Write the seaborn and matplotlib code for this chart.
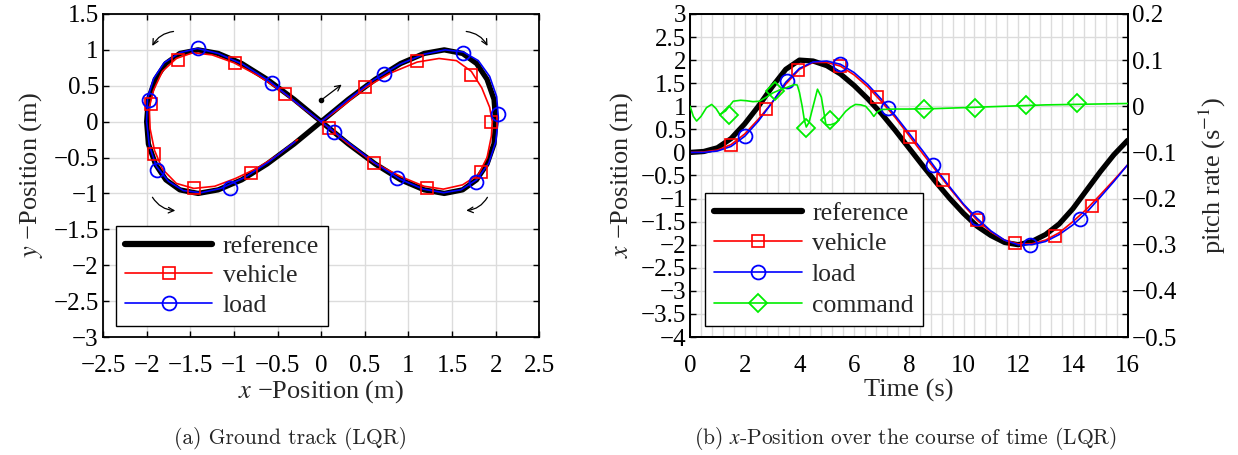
import numpy as np
import pandas as pd
import matplotlib
matplotlib.use("Agg")
import matplotlib.pyplot as plt
from matplotlib.lines import Line2D
from matplotlib.ticker import MultipleLocator
import seaborn as sns

# ---------------- data: ground track ----------------
ref_x = [0, 0.31, 0.62, 0.91, 1.18, 1.41, 1.62, 1.78, 1.90, 1.98, 2.0, 1.98, 1.90, 1.78, 1.62, 1.41, 1.18, 0.91, 0.62, 0.31, 0,
         -0.31, -0.62, -0.91, -1.18, -1.41, -1.62, -1.78, -1.90, -1.98, -2.0, -1.98, -1.90, -1.78, -1.62, -1.41, -1.18, -0.91, -0.62, -0.31, 0]
ref_y = [0, 0.31, 0.59, 0.81, 0.95, 1.0, 0.95, 0.81, 0.59, 0.31, 0, -0.31, -0.59, -0.81, -0.95, -1.0, -0.95, -0.81, -0.59, -0.31, 0,
         0.31, 0.59, 0.81, 0.95, 1.0, 0.95, 0.81, 0.59, 0.31, 0, -0.31, -0.59, -0.81, -0.95, -1.0, -0.95, -0.81, -0.59, -0.31, 0]

veh_x = [0, 0.25, 0.5, 0.8, 1.1, 1.35, 1.55, 1.72, 1.84, 1.93, 1.96, 1.95, 1.9, 1.8, 1.62, 1.4, 1.18, 0.92, 0.6, 0.3, 0.05,
         -0.2, -0.45, -0.72, -1.0, -1.25, -1.47, -1.66, -1.82, -1.92, -1.97, -1.96, -1.91, -1.82, -1.66, -1.46, -1.22, -0.98, -0.72, -0.48, -0.27]
veh_y = [0, 0.22, 0.47, 0.68, 0.83, 0.88, 0.85, 0.7, 0.47, 0.2, 0.0, -0.2, -0.5, -0.74, -0.88, -0.94, -0.9, -0.77, -0.57, -0.3, -0.05,
         0.18, 0.42, 0.64, 0.82, 0.93, 0.96, 0.88, 0.7, 0.44, 0.2, -0.1, -0.4, -0.66, -0.86, -0.93, -0.9, -0.79, -0.64, -0.45, -0.25]

load_x = [0, 0.3, 0.6, 0.9, 1.18, 1.42, 1.63, 1.8, 1.93, 2.01, 2.03, 2.0, 1.92, 1.78, 1.6, 1.4, 1.17, 0.9, 0.62, 0.32, 0.02,
          -0.3, -0.6, -0.9, -1.18, -1.42, -1.62, -1.8, -1.92, -1.99, -2.0, -1.97, -1.89, -1.75, -1.58, -1.38, -1.15, -0.88, -0.6, -0.3]
load_y = [0, 0.3, 0.58, 0.8, 0.94, 1.0, 0.97, 0.85, 0.63, 0.35, 0.05, -0.28, -0.58, -0.81, -0.95, -0.99, -0.94, -0.8, -0.58, -0.3, -0.02,
          0.28, 0.57, 0.8, 0.95, 1.02, 0.96, 0.82, 0.6, 0.32, 0.0, -0.33, -0.62, -0.83, -0.96, -0.99, -0.93, -0.78, -0.56, -0.28]

veh_mk_x = [0.50, 1.10, 1.72, 1.95, 1.83, 1.21, 0.60, 0.095, -0.42, -0.99, -1.646, -1.95, -1.91, -1.46, -0.81]
veh_mk_y = [0.48, 0.84, 0.65, -0.01, -0.70, -0.92, -0.57, -0.09, 0.39, 0.82, 0.86, 0.25, -0.45, -0.93, -0.71]
load_mk_x = [0.72, 1.62, 2.02, 1.77, 0.87, 0.144, -0.56, -1.41, -1.97, -1.88, -1.05]
load_mk_y = [0.665, 0.96, 0.10, -0.84, -0.79, -0.15, 0.54, 1.02, 0.30, -0.67, -0.92]

# ---------------- data: x-position over time ----------------
t_grid = [0, 0.5, 1, 1.5, 2, 2.5, 3, 3.5, 4, 4.5, 5, 5.5, 6, 6.5, 7, 7.5, 8, 8.5, 9, 9.5, 10, 10.5,
          11, 11.5, 12, 12.5, 13, 13.5, 14, 14.5, 15, 15.5, 16]
ref_pos = [0, 0.02, 0.1, 0.3, 0.62, 1.0, 1.42, 1.8, 2.0, 1.98, 1.88, 1.7, 1.45, 1.16, 0.84, 0.48, 0.1, -0.28,
           -0.65, -1.0, -1.32, -1.6, -1.8, -1.95, -2.0, -1.93, -1.78, -1.55, -1.22, -0.82, -0.42, -0.05, 0.26]
veh_pos = [0, 0.01, 0.05, 0.17, 0.4, 0.72, 1.08, 1.48, 1.8, 1.95, 1.95, 1.87, 1.68, 1.42, 1.1, 0.76, 0.37, -0.02,
           -0.4, -0.78, -1.14, -1.47, -1.72, -1.9, -1.98, -1.98, -1.9, -1.74, -1.5, -1.23, -0.92, -0.6, -0.27]
load_pos = [0, 0.0, 0.03, 0.13, 0.35, 0.68, 1.08, 1.52, 1.82, 1.96, 1.98, 1.91, 1.73, 1.47, 1.15, 0.8, 0.42, 0.04,
            -0.36, -0.75, -1.12, -1.43, -1.7, -1.9, -2.0, -2.0, -1.93, -1.78, -1.57, -1.3, -0.97, -0.63, -0.27]

veh_mk_t = [1.49, 2.79, 3.94, 5.5, 6.83, 8.05, 9.26, 10.5, 11.9, 13.34, 14.69]
veh_mk_pos = [0.17, 0.93, 1.79, 1.87, 1.2, 0.33, -0.6, -1.47, -1.97, -1.81, -1.16]
load_mk_t = [2.0, 3.53, 5.5, 7.25, 8.89, 10.5, 12.45, 14.26]
load_mk_pos = [0.35, 1.55, 1.91, 0.97, -0.28, -1.43, -2.01, -1.45]

cmd_t = [0, 0.12, 0.24, 0.4, 0.6, 0.79, 0.95, 1.09, 1.3, 1.58, 1.85, 2.06, 2.3, 2.54, 2.8, 3.03, 3.3, 3.51, 3.81,
         3.92, 4.0, 4.1, 4.18, 4.25, 4.35, 4.5, 4.66, 4.8, 4.97, 5.15, 5.33, 5.5, 5.69, 5.87, 6.05, 6.25, 6.42,
         6.6, 6.72, 6.85, 7.0, 7.5, 8, 9, 10, 11, 12, 13, 14, 15, 16]
cmd_rate = [0.0, -0.022, -0.032, -0.022, -0.003, 0.004, -0.005, -0.018, -0.01, 0.011, 0.013, 0.012, 0.01, 0.011,
            0.02, 0.029, 0.036, 0.040, 0.047, 0.046, 0.03, 0.0, -0.03, -0.045, -0.035, 0.0, 0.037, 0.02, -0.040,
            -0.040, -0.036, -0.025, -0.011, -0.002, 0.004, 0.003, 0.0, -0.012, -0.022, -0.012, -0.007, -0.006,
            -0.006, -0.005, -0.003, -0.001, 0.001, 0.003, 0.004, 0.005, 0.006]
cmd_mk_t = [1.41, 3.12, 4.23, 5.12, 8.56, 10.43, 12.29, 14.15]
cmd_mk_rate = [-0.018, 0.033, -0.047, -0.030, -0.007, -0.003, 0.002, 0.006]

# ---------------- style ----------------
sns.set_theme(style="white")
plt.rcParams["font.family"] = ["Liberation Serif", "DejaVu Serif"]
plt.rcParams["mathtext.fontset"] = "stix"
plt.rcParams["axes.unicode_minus"] = True

FS = 18
GRID = "#dcdcdc"
RED = "#ff0000"
BLUE = "#0000ff"
GREEN = "#00ee00"

fig = plt.figure(figsize=(12.38, 4.55), dpi=100)
axL = fig.add_axes([0.0832, 0.2593, 0.3525, 0.7100])
axR = fig.add_axes([0.5574, 0.2593, 0.3534, 0.7100])


def style_axes(ax):
    for s in ax.spines.values():
        s.set_color("black")
        s.set_linewidth(1.3)
    ax.tick_params(axis="both", which="both", direction="in", labelsize=FS, colors="black",
                   length=4, width=1.0)
    ax.tick_params(axis="x", pad=13)
    ax.tick_params(axis="y", pad=3)


# ---------------- left plot ----------------
sns.lineplot(x=ref_x, y=ref_y, sort=False, estimator=None, ax=axL, color="black", lw=3.8, zorder=2)
sns.lineplot(x=veh_x, y=veh_y, sort=False, estimator=None, ax=axL, color=RED, lw=1.2, zorder=3)
sns.lineplot(x=load_x, y=load_y, sort=False, estimator=None, ax=axL, color=BLUE, lw=1.2, zorder=4)
axL.plot(veh_mk_x, veh_mk_y, ls="none", marker="s", ms=9, mfc="none", mec=RED, mew=1.2, zorder=5)
axL.plot(load_mk_x, load_mk_y, ls="none", marker="o", ms=10, mfc="none", mec=BLUE, mew=1.3, zorder=6)

axL.set_xlim(-2.5, 2.5)
axL.set_ylim(-3, 1.5)
axL.set_xticks(np.arange(-2.5, 2.51, 0.5))
axL.set_xticklabels(["\u22122.5", "\u22122", "\u22121.5", "\u22121", "\u22120.5", "0", "0.5", "1", "1.5", "2", "2.5"])
axL.set_yticks(np.arange(-3, 1.51, 0.5))
axL.set_yticklabels(["\u22123", "\u22122.5", "\u22122", "\u22121.5", "\u22121", "\u22120.5", "0", "0.5", "1", "1.5"])
axL.grid(True, color=GRID, lw=1.0)
axL.set_axisbelow(True)
style_axes(axL)
axL.tick_params(top=True, right=True, bottom=True, left=True)
axL.set_xlabel("$x$ \u2212Position (m)", fontsize=FS + 1, labelpad=1)
axL.set_ylabel("$y$ \u2212Position (m)", fontsize=FS + 1, labelpad=6)

# direction arrows
akw = dict(arrowstyle="->", color="black", lw=0.9, mutation_scale=10)
axL.plot([0], [0.30], marker="o", ms=3, color="black", zorder=7)
axL.annotate("", xy=(0.26, 0.54), xytext=(0.0, 0.30), arrowprops=dict(**akw, connectionstyle="arc3,rad=0"))
axL.annotate("", xy=(-1.95, 1.02), xytext=(-1.66, 1.26), arrowprops=dict(**akw, connectionstyle="arc3,rad=0.3"))
axL.annotate("", xy=(1.92, 1.02), xytext=(1.63, 1.26), arrowprops=dict(**akw, connectionstyle="arc3,rad=-0.3"))
axL.annotate("", xy=(-1.64, -1.24), xytext=(-1.95, -1.02), arrowprops=dict(**akw, connectionstyle="arc3,rad=0.3"))
axL.annotate("", xy=(1.63, -1.24), xytext=(1.92, -1.02), arrowprops=dict(**akw, connectionstyle="arc3,rad=-0.3"))

hL = [Line2D([], [], color="black", lw=4.5),
      Line2D([], [], color=RED, lw=1.2, marker="s", ms=9, mfc="none", mec=RED, mew=1.2),
      Line2D([], [], color=BLUE, lw=1.2, marker="o", ms=10, mfc="none", mec=BLUE, mew=1.3)]
legL = axL.legend(hL, ["reference", "vehicle", "load"], loc="lower left", bbox_to_anchor=(0.03, 0.035),
                  fontsize=FS + 0.5, frameon=True, fancybox=False, framealpha=1, edgecolor="black",
                  handlelength=3.4, handletextpad=0.4, borderpad=0.35, labelspacing=0.25, borderaxespad=0)
legL.get_frame().set_linewidth(1.0)

# ---------------- right plot ----------------
sns.lineplot(x=t_grid, y=ref_pos, ax=axR, color="black", lw=3.8, zorder=2)
sns.lineplot(x=t_grid, y=veh_pos, ax=axR, color=RED, lw=1.2, zorder=3)
sns.lineplot(x=t_grid, y=load_pos, ax=axR, color=BLUE, lw=1.2, zorder=4)
axR.plot(veh_mk_t, veh_mk_pos, ls="none", marker="s", ms=9, mfc="none", mec=RED, mew=1.2, zorder=5)
axR.plot(load_mk_t, load_mk_pos, ls="none", marker="o", ms=10, mfc="none", mec=BLUE, mew=1.3, zorder=6)

axR.set_xlim(0, 16)
axR.set_ylim(-4, 3)
axR.set_xticks(np.arange(0, 16.1, 2))
axR.xaxis.set_minor_locator(MultipleLocator(0.4))
axR.set_yticks(np.arange(-4, 3.01, 0.5))
axR.set_yticklabels(["\u22124", "\u22123.5", "\u22123", "\u22122.5", "\u22122", "\u22121.5", "\u22121", "\u22120.5",
                     "0", "0.5", "1", "1.5", "2", "2.5", "3"])
axR.grid(True, which="major", color=GRID, lw=1.0)
axR.grid(True, which="minor", axis="x", color=GRID, lw=1.0)
axR.set_axisbelow(True)
style_axes(axR)
axR.tick_params(which="minor", length=0)
axR.tick_params(top=False, right=False)
axR.set_xlabel("Time (s)", fontsize=FS + 1, labelpad=1)
axR.set_ylabel("$x$ \u2212Position (m)", fontsize=FS + 1, labelpad=4)

ax2 = axR.twinx()
ax2.set_position(axR.get_position())
sns.lineplot(x=cmd_t, y=cmd_rate, ax=ax2, color=GREEN, lw=1.2, zorder=3)
ax2.plot(cmd_mk_t, cmd_mk_rate, ls="none", marker="D", ms=9, mfc="none", mec=GREEN, mew=1.3, zorder=4)
ax2.set_ylim(-0.5, 0.2)
ax2.set_yticks(np.arange(-0.5, 0.201, 0.1))
ax2.set_yticklabels(["\u22120.5", "\u22120.4", "\u22120.3", "\u22120.2", "\u22120.1", "0", "0.1", "0.2"])
ax2.yaxis.set_minor_locator(MultipleLocator(0.05))
style_axes(ax2)
ax2.tick_params(which="minor", length=4, width=1.0)
ax2.set_ylabel("pitch rate (s$^{-1}$)", fontsize=FS + 1, labelpad=14)
ax2.grid(False)

hR = [Line2D([], [], color="black", lw=4.5),
      Line2D([], [], color=RED, lw=1.2, marker="s", ms=9, mfc="none", mec=RED, mew=1.2),
      Line2D([], [], color=BLUE, lw=1.2, marker="o", ms=10, mfc="none", mec=BLUE, mew=1.3),
      Line2D([], [], color=GREEN, lw=1.2, marker="D", ms=9, mfc="none", mec=GREEN, mew=1.3)]
legR = ax2.legend(hR, ["reference", "vehicle", "load", "command"], loc="lower left", bbox_to_anchor=(0.035, 0.035),
                  fontsize=FS + 0.5, frameon=True, fancybox=False, framealpha=1, edgecolor="black",
                  handlelength=3.4, handletextpad=0.4, borderpad=0.35, labelspacing=0.3, borderaxespad=0)
legR.get_frame().set_linewidth(1.0)

# captions
fig.text(290 / 1238, 1 - 439 / 455, "(a) Ground track (LQR)", ha="center", va="center", fontsize=15.5,
         family=["cmr10", "DejaVu Serif"])
fig.text(905 / 1238, 1 - 439 / 455, "(b) $x$-Position over the course of time (LQR)", ha="center", va="center",
         fontsize=15.5, family=["cmr10", "DejaVu Serif"])

fig.savefig("out.png", dpi=100)
